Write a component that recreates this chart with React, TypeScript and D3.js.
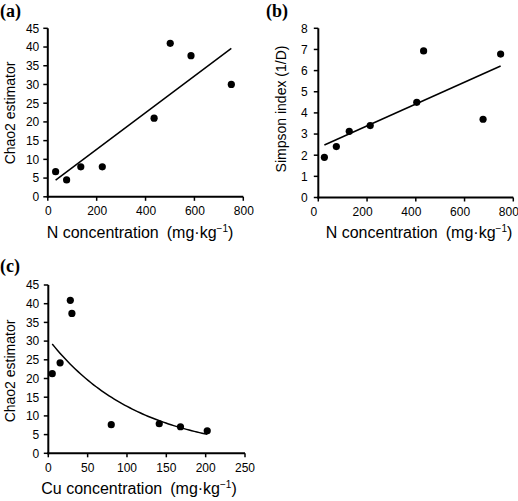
import React from 'react';
import * as d3 from 'd3';

// Panel (a): N concentration vs Chao2 estimator
const nConcA = [32, 77, 135, 223, 435, 501, 586, 751];
const chaoA = [6.7, 4.5, 8.0, 8.0, 21.0, 41.0, 37.7, 30.0];
// Panel (b): N concentration vs Simpson index
const nConcB = [25, 74, 127, 213, 404, 432, 676, 748];
const simpsonB = [1.9, 2.41, 3.13, 3.4, 4.5, 6.93, 3.7, 6.78];
// Panel (c): Cu concentration vs Chao2 estimator
const cuConcC = [5, 15, 28, 30, 80, 141, 168, 202];
const chaoC = [21.3, 24.2, 40.9, 37.4, 7.65, 7.9, 7.1, 6.0];

const ticksNConc = [0, 200, 400, 600, 800];
const ticksCuConc = [0, 50, 100, 150, 200, 250];
const ticksChao = [0, 5, 10, 15, 20, 25, 30, 35, 40, 45];
const ticksSimpson = [0, 1, 2, 3, 4, 5, 6, 7, 8];

const fitA = { intercept: 2.9, slope: 0.0489 };
const fitB = { intercept: 2.353, slope: 0.005163 };
const fitC = { a: 30.56, b: 0.008896 };

const SANS = '"Liberation Sans", Arial, Helvetica, sans-serif';
const SERIF = '"Liberation Serif", "Times New Roman", serif';

type PanelProps = {
  label: string;
  labelX: number;
  labelY: number;
  xs: number[];
  ys: number[];
  xDomain: [number, number];
  yDomain: [number, number];
  xRange: [number, number];
  yRange: [number, number];
  xTicks: number[];
  yTicks: number[];
  xLabelDx: number;
  yLabelOff: number;
  fit: (x: number) => number;
  fitLinear: boolean;
  yTitle: string;
  yTitleX: number;
  yTitleY: number;
  xTitleMain: string;
  xTitleX: number;
  xTitleY: number;
};

function Panel(p: PanelProps) {
  const x = d3.scaleLinear().domain(p.xDomain).range(p.xRange);
  const y = d3.scaleLinear().domain(p.yDomain).range(p.yRange);
  const x0 = p.xRange[0];
  const y0 = p.yRange[0];
  const [xmin, xmax] = d3.extent(p.xs) as [number, number];
  const samples = p.fitLinear ? [xmin, xmax] : d3.range(0, 61).map((i) => xmin + ((xmax - xmin) * i) / 60);
  const line = d3
    .line<number>()
    .x((d) => x(d))
    .y((d) => y(p.fit(d)));
  return (
    <g>
      <text x={p.labelX} y={p.labelY} fontFamily={SERIF} fontWeight="bold" fontSize={18} fill="#000">
        {p.label}
      </text>
      {/* axes */}
      <line x1={x0} x2={x0} y1={y0 + 1} y2={p.yRange[1]} stroke="#000" strokeWidth={2} />
      <line x1={x0 - 1} x2={p.xRange[1]} y1={y0} y2={y0} stroke="#000" strokeWidth={2} />
      {p.yTicks.map((t) => (
        <g key={'y' + t}>
          <line x1={x0 - 4.5} x2={x0} y1={y(t)} y2={y(t)} stroke="#000" strokeWidth={1.5} />
          <text
            x={x0 - p.yLabelOff}
            y={y(t)}
            dy="0.36em"
            textAnchor="end"
            fontFamily={SANS}
            fontSize={12}
            fill="#000"
          >
            {t}
          </text>
        </g>
      ))}
      {p.xTicks.map((t) => (
        <g key={'x' + t}>
          <line x1={x(t)} x2={x(t)} y1={y0} y2={y0 + 4} stroke="#000" strokeWidth={1.5} />
          <text
            x={x(t) + p.xLabelDx}
            y={y0 + 18.5}
            textAnchor="middle"
            fontFamily={SANS}
            fontSize={12}
            fill="#000"
          >
            {t}
          </text>
        </g>
      ))}
      <path d={line(samples) || ''} fill="none" stroke="#000" strokeWidth={1.5} />
      {p.xs.map((v, i) => (
        <circle key={i} cx={x(v)} cy={y(p.ys[i])} r={3.6} fill="#000" />
      ))}
      <text
        transform={`translate(${p.yTitleX},${p.yTitleY}) rotate(-90)`}
        textAnchor="middle"
        fontFamily={SANS}
        fontSize={14}
        fill="#000"
      >
        {p.yTitle}
      </text>
      <text x={p.xTitleX} y={p.xTitleY} textAnchor="middle" fontFamily={SANS} fontSize={16} fill="#000">
        <tspan>{p.xTitleMain}</tspan>
        <tspan dx={8}>(mg·kg</tspan>
        <tspan dy={-6} fontSize={10}>−1</tspan>
        <tspan dy={6}>)</tspan>
      </text>
    </g>
  );
}

export default function App() {
  return (
    <svg
      width={518}
      height={501}
      style={{ position: 'absolute', left: 0, top: 0, background: '#fff' }}
    >
      <rect width={518} height={501} fill="#fff" />
      <Panel
        label="(a)"
        labelX={0}
        labelY={16.5}
        xs={nConcA}
        ys={chaoA}
        xDomain={[0, 800]}
        yDomain={[0, 45]}
        xRange={[47.8, 243.3]}
        yRange={[196.8, 28.3]}
        xTicks={ticksNConc}
        yTicks={ticksChao}
        xLabelDx={0.5}
        yLabelOff={8.5}
        fit={(v) => fitA.intercept + fitA.slope * v}
        fitLinear={true}
        yTitle="Chao2 estimator"
        yTitleX={15}
        yTitleY={113}
        xTitleMain="N concentration"
        xTitleX={140}
        xTitleY={238}
      />
      <Panel
        label="(b)"
        labelX={266}
        labelY={16.5}
        xs={nConcB}
        ys={simpsonB}
        xDomain={[0, 800]}
        yDomain={[0, 8]}
        xRange={[318.3, 513.3]}
        yRange={[197.5, 28.3]}
        xTicks={ticksNConc}
        yTicks={ticksSimpson}
        xLabelDx={-4.5}
        yLabelOff={10.5}
        fit={(v) => fitB.intercept + fitB.slope * v}
        fitLinear={true}
        yTitle="Simpson index (1/D)"
        yTitleX={286}
        yTitleY={109}
        xTitleMain="N concentration"
        xTitleX={419}
        xTitleY={238}
      />
      <Panel
        label="(c)"
        labelX={0}
        labelY={272}
        xs={cuConcC}
        ys={chaoC}
        xDomain={[0, 250]}
        yDomain={[0, 45]}
        xRange={[48.3, 245]}
        yRange={[453.3, 285]}
        xTicks={ticksCuConc}
        yTicks={ticksChao}
        xLabelDx={0}
        yLabelOff={9}
        fit={(v) => fitC.a * Math.exp(-fitC.b * v)}
        fitLinear={false}
        yTitle="Chao2 estimator"
        yTitleX={15}
        yTitleY={371}
        xTitleMain="Cu concentration"
        xTitleX={139}
        xTitleY={494}
      />
    </svg>
  );
}
